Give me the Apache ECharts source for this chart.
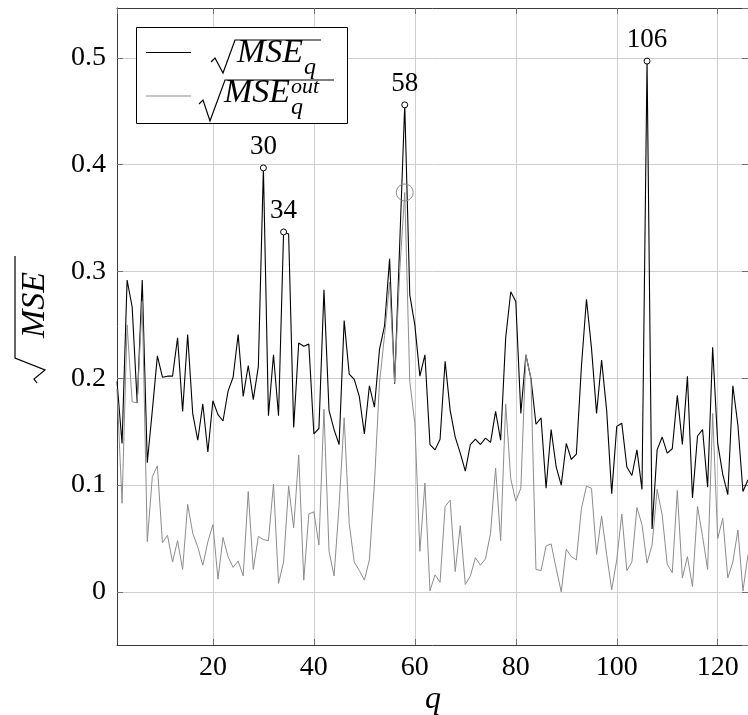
<!DOCTYPE html>
<html><head><meta charset="utf-8">
<script src="https://cdn.jsdelivr.net/npm/echarts@6/dist/echarts.min.js"></script>
<style>html,body{margin:0;padding:0;background:#fff}#c{width:748px;height:715px}</style>
</head><body><div id="c"></div>
<script>
const qValues = [1,2,3,4,5,6,7,8,9,10,11,12,13,14,15,16,17,18,19,20,21,22,23,24,25,26,27,28,29,30,31,32,33,34,35,36,37,38,39,40,41,42,43,44,45,46,47,48,49,50,51,52,53,54,55,56,57,58,59,60,61,62,63,64,65,66,67,68,69,70,71,72,73,74,75,76,77,78,79,80,81,82,83,84,85,86,87,88,89,90,91,92,93,94,95,96,97,98,99,100,101,102,103,104,105,106,107,108,109,110,111,112,113,114,115,116,117,118,119,120,121,122,123,124,125,126];

const mseQ = [0.197,0.139,0.292,0.267,0.177,0.292,0.121,0.170,0.221,0.201,
0.202,0.202,0.238,0.169,0.241,0.167,0.142,0.176,0.131,0.179,
0.166,0.160,0.188,0.201,0.241,0.183,0.212,0.180,0.211,0.397,
0.165,0.222,0.165,0.337,0.335,0.154,0.233,0.230,0.232,0.148,
0.153,0.283,0.170,0.152,0.138,0.254,0.204,0.199,0.183,0.148,
0.193,0.173,0.227,0.249,0.312,0.195,0.325,0.456,0.278,0.250,
0.202,0.222,0.138,0.133,0.143,0.216,0.170,0.145,0.130,0.113,
0.138,0.143,0.138,0.144,0.140,0.169,0.142,0.238,0.281,0.272,
0.167,0.222,0.200,0.157,0.163,0.097,0.152,0.117,0.100,0.139,
0.124,0.129,0.211,0.274,0.228,0.167,0.217,0.170,0.092,0.155,
0.158,0.117,0.109,0.133,0.096,0.497,0.059,0.133,0.145,0.130,
0.134,0.184,0.138,0.202,0.088,0.146,0.152,0.098,0.229,0.139,
0.110,0.091,0.193,0.156,0.094,0.105];

const mseQOut = [0.190,0.083,0.250,0.178,0.177,0.272,0.047,0.108,0.118,0.046,
0.053,0.028,0.048,0.021,0.082,0.055,0.042,0.025,0.047,0.063,
0.012,0.051,0.033,0.023,0.029,0.015,0.094,0.021,0.052,0.049,
0.048,0.101,0.008,0.028,0.099,0.060,0.128,0.011,0.073,0.075,
0.044,0.171,0.038,0.015,0.081,0.163,0.064,0.028,0.020,0.011,
0.030,0.102,0.196,0.240,0.290,0.196,0.300,0.374,0.197,0.158,
0.038,0.102,0.001,0.016,0.009,0.080,0.086,0.019,0.062,0.007,
0.015,0.032,0.025,0.031,0.055,0.116,0.048,0.176,0.106,0.085,
0.097,0.222,0.200,0.021,0.020,0.043,0.045,0.022,0.000,0.040,
0.033,0.030,0.078,0.099,0.097,0.035,0.071,0.035,0.002,0.030,
0.073,0.020,0.028,0.079,0.063,0.027,0.044,0.096,0.072,0.026,
0.018,0.095,0.013,0.033,0.005,0.080,0.052,0.021,0.167,0.050,
0.069,0.013,0.028,0.058,0.001,0.035];

const peakQ = [30, 34, 58, 106];
const outPeakQ = [58];
const xRange = [1, 126];
const yRange = [-0.0497, 0.5467];

const SERIF = '"Liberation Serif", "DejaVu Serif", serif';
const chart = echarts.init(document.getElementById('c'), null, {renderer: 'canvas'});

function pairs(vals) { return qValues.map((q, i) => [q, vals[i]]); }
function idx(q) { return qValues.indexOf(q); }

const gridCol = '#cfcfcf';
const axisCol = '#3a3a3a';
const tickCol = '#707070';

function xAx(pos, labels) {
  return {
    type: 'value', position: pos, min: xRange[0], max: xRange[1], splitNumber: 6,
    axisLine: {show: true, onZero: false, lineStyle: {color: axisCol, width: 1}},
    axisTick: {show: true, inside: true, length: 6, lineStyle: {color: tickCol}},
    axisLabel: {show: labels, showMinLabel: false, showMaxLabel: false, color: '#000', fontFamily: SERIF, fontSize: 28, margin: 9},
    splitLine: {show: labels, lineStyle: {color: gridCol, width: 1}}
  };
}
function yAx(pos, labels) {
  return {
    type: 'value', position: pos, min: yRange[0], max: yRange[1], splitNumber: 6,
    axisLine: {show: true, onZero: false, lineStyle: {color: axisCol, width: 1}},
    axisTick: {show: true, inside: true, length: 6, lineStyle: {color: tickCol}},
    axisLabel: {show: labels, showMinLabel: false, showMaxLabel: false, color: '#000', fontFamily: SERIF, fontSize: 28, margin: 11,
      formatter: v => (Math.abs(v) < 1e-9 ? '0' : v.toFixed(1))},
    splitLine: {show: labels, lineStyle: {color: gridCol, width: 1}}
  };
}

const option = {
  animation: false,
  backgroundColor: '#fff',
  grid: {left: 117, top: 8, width: 631, height: 637, containLabel: false},
  xAxis: [xAx('bottom', true), xAx('top', false)],
  yAxis: [yAx('left', true), yAx('right', false)],
  series: [
    {
      name: 'mseQ', type: 'line', data: pairs(mseQ), showSymbol: false, symbol: 'none',
      lineStyle: {color: '#000', width: 1.1}, z: 3,
      markPoint: {
        symbol: 'circle', symbolSize: 6,
        itemStyle: {color: '#fff', borderColor: '#000', borderWidth: 1},
        label: {show: true, position: 'top', distance: 4, color: '#000', fontFamily: SERIF, fontSize: 27,
          formatter: p => String(p.value)},
        data: peakQ.map(q => ({coord: [q, mseQ[idx(q)]], value: q}))
      }
    },
    {
      name: 'mseQOut', type: 'line', data: pairs(mseQOut), showSymbol: false, symbol: 'none',
      lineStyle: {color: '#8c8c8c', width: 1}, z: 4,
      markPoint: {
        symbol: 'circle', symbolSize: 17,
        itemStyle: {color: 'rgba(0,0,0,0)', borderColor: '#8c8c8c', borderWidth: 1},
        label: {show: false},
        data: outPeakQ.map(q => ({coord: [q, mseQOut[idx(q)]], value: q}))
      }
    }
  ],
  graphic: [
    {type: 'rect', z: 100, shape: {x: 136.5, y: 27.5, width: 211, height: 96}, style: {fill: '#fff', stroke: '#000', lineWidth: 1}},
    {type: 'line', z: 101, shape: {x1: 146, y1: 52.5, x2: 191, y2: 52.5}, style: {stroke: '#000', lineWidth: 1.1}},
    {type: 'line', z: 101, shape: {x1: 146, y1: 96, x2: 191, y2: 96}, style: {stroke: '#8c8c8c', lineWidth: 1}},
    {type: 'polyline', z: 101, shape: {points: [[211, 62], [215, 58], [223, 73], [235, 40], [321, 40]]}, style: {stroke: '#000', lineWidth: 1.2, fill: null}},
    {type: 'text', z: 101, x: 237, y: 70, style: {text: 'MSE', font: 'italic 34px ' + SERIF, fill: '#000', verticalAlign: 'bottom'}},
    {type: 'text', z: 101, x: 304, y: 80, style: {text: 'q', font: 'italic 24px ' + SERIF, fill: '#000', verticalAlign: 'bottom'}},
    {type: 'polyline', z: 101, shape: {points: [[199, 104], [203, 100], [210, 121], [225, 80], [334, 80]]}, style: {stroke: '#000', lineWidth: 1.2, fill: null}},
    {type: 'text', z: 101, x: 224, y: 110, style: {text: 'MSE', font: 'italic 34px ' + SERIF, fill: '#000', verticalAlign: 'bottom'}},
    {type: 'text', z: 101, x: 291, y: 98, style: {text: 'out', font: 'italic 22px ' + SERIF, fill: '#000', verticalAlign: 'bottom'}},
    {type: 'text', z: 101, x: 291, y: 120, style: {text: 'q', font: 'italic 24px ' + SERIF, fill: '#000', verticalAlign: 'bottom'}},
    {type: 'text', z: 101, x: 35, y: 305, rotation: Math.PI / 2, style: {text: 'MSE', font: 'italic 34px ' + SERIF, fill: '#000', align: 'center', verticalAlign: 'middle'}},
    {type: 'polyline', z: 101, shape: {points: [[15, 256], [15, 358], [45, 370], [34, 379], [37, 383]]}, style: {stroke: '#000', lineWidth: 1.2, fill: null}},
    {type: 'text', z: 101, x: 433, y: 700, style: {text: 'q', font: 'italic 32px ' + SERIF, fill: '#000', align: 'center', verticalAlign: 'middle'}}
  ]
};
chart.setOption(option);
</script>
</body></html>
